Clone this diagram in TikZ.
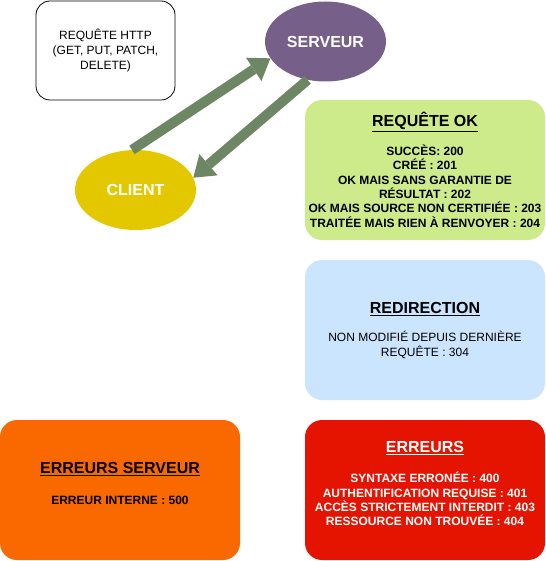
\documentclass[tikz,border=0pt]{standalone}
\usepackage{fontspec}
\setmainfont{Liberation Sans}
\usetikzlibrary{arrows.meta,shapes.geometric}
\definecolor{srvpurple}{HTML}{76608A}
\definecolor{cliyellow}{HTML}{E3C800}
\definecolor{arrgreen}{HTML}{6D8764}
\definecolor{okgreen}{HTML}{CDEB8B}
\definecolor{redirblue}{HTML}{CCE5FF}
\definecolor{errred}{HTML}{E51400}
\definecolor{srvorange}{HTML}{FA6800}
\begin{document}
\begin{tikzpicture}[x=1pt,y=-1pt,
  bigbox/.style={rounded corners=17pt, minimum width=240pt, minimum height=140pt, inner sep=0pt},
  oval/.style={ellipse, minimum width=121pt, minimum height=80pt, inner sep=0pt, text=white,
    font=\bfseries\fontsize{16}{19}\selectfont},
  titletxt/.style={align=center, font=\bfseries\fontsize{16}{19}\selectfont},
  bodytxt/.style={align=center, font=\fontsize{12}{14.4}\selectfont},
  boldbody/.style={bodytxt, font=\bfseries\fontsize{12}{14.4}\selectfont},
  flex/.style={draw=arrgreen, line width=10pt,
    -{Triangle[width=28pt 0 0, length=20pt 0 0, line width=0pt 0 0, fill=arrgreen]}}
]
\useasboundingbox (0,0) rectangle (545,561);

% request note
\node[draw=black, line width=0.8pt, rounded corners=14pt, minimum width=139pt, minimum height=99pt, inner sep=0pt] (note) at (105.5,50.5) {};
\node[bodytxt, font=\fontsize{12}{15}\selectfont] (notetxt) at (105.5,50.5) {REQUÊTE HTTP\\(GET, PUT, PATCH,\\DELETE)};

% ellipses
\node[oval, fill=srvpurple] (server) at (325.5,41.5) {SERVEUR};
\node[oval, fill=cliyellow] (client) at (135.5,190) {CLIENT};

% arrows
\draw[flex] (client.95) -- (server.197);
\draw[flex] (server.245) -- (client.12);

% OK box
\node[bigbox, fill=okgreen] (ok) at (425,170) {};
\node[titletxt] (okt) at (425,122) {\underline{REQUÊTE OK}};
\node[boldbody] (okb) at (425,186) {SUCCÈS: 200\\CRÉÉ : 201\\OK MAIS SANS GARANTIE DE\\RÉSULTAT : 202\\OK MAIS SOURCE NON CERTIFIÉE : 203\\TRAITÉE MAIS RIEN À RENVOYER : 204};

% redirection box
\node[bigbox, fill=redirblue] (redir) at (425,330) {};
\node[titletxt] (redirt) at (425,309) {\underline{REDIRECTION}};
\node[bodytxt] (redirb) at (425,345) {NON MODIFIÉ DEPUIS DERNIÈRE\\REQUÊTE : 304};

% errors box
\node[bigbox, fill=errred] (err) at (425,490) {};
\node[titletxt, text=white] (errt) at (425,448) {\underline{ERREURS}};
\node[boldbody, text=white] (errb) at (425,499) {SYNTAXE ERRONÉE : 400\\AUTHENTIFICATION REQUISE : 401\\ACCÈS STRICTEMENT INTERDIT : 403\\RESSOURCE NON TROUVÉE : 404};

% server errors box
\node[bigbox, fill=srvorange] (serr) at (120,490) {};
\node[titletxt] (serrt) at (120,469) {\underline{ERREURS SERVEUR}};
\node[boldbody] (serrb) at (120,500) {ERREUR INTERNE : 500};
\end{tikzpicture}
\end{document}
